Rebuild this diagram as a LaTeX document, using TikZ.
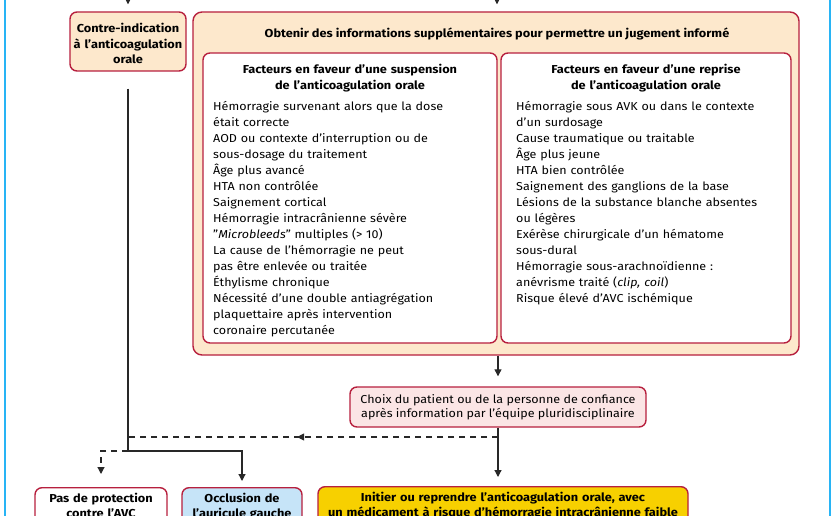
\documentclass[tikz,border=0pt]{standalone}
\usepackage{fontspec}
\setmainfont{Fira Sans}[FakeStretch=1.09, BoldFeatures={FakeStretch=1.11}]
\usetikzlibrary{arrows.meta,decorations.markings}
\definecolor{crim}{RGB}{183,32,62}
\definecolor{peach}{RGB}{253,232,204}
\definecolor{rose}{RGB}{251,229,229}
\definecolor{gold}{RGB}{247,208,0}
\definecolor{sky}{RGB}{198,228,248}
\definecolor{cyanl}{RGB}{40,180,245}
\definecolor{conn}{RGB}{40,40,40}
\begin{document}
\begin{tikzpicture}[x=1pt,y=-1pt,
 box/.style={draw=crim, line width=1.4pt, rounded corners=7pt, inner sep=0pt},
 con/.style={draw=conn, line width=1.2pt},
 tip/.style={-{Triangle[width=7pt,length=7pt]}},
 dsh/.style={dash pattern=on 6pt off 5pt},
 body/.style={font=\fontsize{11.5}{16}\selectfont, inner sep=0pt},
 bold/.style={font=\fontsize{11.5}{16}\selectfont\bfseries, inner sep=0pt}]
\clip (0,0) rectangle (836,516);
\fill[white] (0,0) rectangle (836,516);
\draw[cyanl, line width=2pt] (5,0) -- (5,516);
\draw[cyanl, line width=2pt] (830,0) -- (830,516);

% boxes
\node[box, fill=peach, minimum width=116pt, minimum height=59pt] (contre) at (128,41.5) {};
\node[bold, anchor=north, text width=116pt, align=center, font=\fontsize{11.5}{15.5}\selectfont\bfseries] (contretxt) at (128,21.8) {\strut Contre-indication\\à l’anticoagulation\\orale};

\node[box, fill=peach, minimum width=606pt, minimum height=343pt, rounded corners=9pt] (big) at (496,183.5) {};
\node[bold, anchor=base] (title) at (497,38) {Obtenir des informations supplémentaires pour permettre un jugement informé};

\node[box, fill=white, minimum width=294pt, minimum height=290pt] (lbox) at (350,198) {};
\node[box, fill=white, minimum width=290pt, minimum height=290pt] (rbox) at (646,198) {};

\node[bold, anchor=north, text width=290pt, align=center] (lhead) at (350,61.8) {\strut Facteurs en faveur d'une suspension\\de l’anticoagulation orale};
\node[bold, anchor=north, text width=286pt, align=center] (rhead) at (646,61.8) {\strut Facteurs en faveur d'une reprise\\de l’anticoagulation orale};

\node[body, anchor=north west, text width=282pt, align=left] (llist) at (213,99.3) {\strut Hémorragie survenant alors que la dose\\
était correcte\\
AOD ou contexte d'interruption ou de\\
sous-dosage du traitement\\
Âge plus avancé\\
HTA non contrôlée\\
Saignement cortical\\
Hémorragie intracrânienne sévère\\
"\textit{Microbleeds}" multiples (> 10)\\
La cause de l’hémorragie ne peut\\
pas être enlevée ou traitée\\
Éthylisme chronique\\
Nécessité d'une double antiagrégation\\
plaquettaire après intervention\\
coronaire percutanée};

\node[body, anchor=north west, text width=272pt, align=left] (rlist) at (516,99.3) {\strut Hémorragie sous AVK ou dans le contexte\\
d'un surdosage\\
Cause traumatique ou traitable\\
Âge plus jeune\\
HTA bien contrôlée\\
Saignement des ganglions de la base\\
Lésions de la substance blanche absentes\\
ou légères\\
Exérèse chirurgicale d'un hématome\\
sous-dural\\
Hémorragie sous-arachnoïdienne :\\
anévrisme traité (\textit{clip, coil})\\
Risque élevé d'AVC ischémique};

\node[box, fill=rose, minimum width=296pt, minimum height=40pt, align=center, font=\fontsize{11.5}{14}\selectfont] (choix) at (498,407) {Choix du patient ou de la personne de confiance\\après information par l’équipe pluridisciplinaire};

\node[box, fill=white, minimum width=132pt, minimum height=60pt, anchor=north] (pas) at (101,487) {};
\node[bold, anchor=north, text width=132pt, align=center, font=\fontsize{11.5}{15}\selectfont\bfseries] (pastxt) at (101,491.8) {\strut Pas de protection\\contre l’AVC};

\node[box, fill=sky, minimum width=120pt, minimum height=60pt, anchor=north] (occl) at (242,487) {};
\node[bold, anchor=north, text width=120pt, align=center, font=\fontsize{11.5}{15}\selectfont\bfseries] (occltxt) at (242,491.8) {\strut Occlusion de\\l’auricule gauche};

\node[box, fill=gold, minimum width=370pt, minimum height=60pt, anchor=north] (init) at (503,486) {};
\node[bold, anchor=north, text width=370pt, align=center, font=\fontsize{11.5}{15}\selectfont\bfseries] (inittxt) at (503,490.8) {\strut Initier ou reprendre l’anticoagulation orale, avec\\un médicament à risque d'hémorragie intracrânienne faible};

% connectors
\coordinate (topA) at (128,-10);
\coordinate (topB) at (497,-10);
\coordinate (j1) at (128,451);
\coordinate (j2) at (498,437);
\coordinate (j3) at (128,437);
\draw[con, tip, shorten >=7pt] (topA) -- (contre.north);
\draw[con, tip, shorten >=7pt] (topB) -- (topB |- big.north);
\draw[con, tip, shorten <=17pt, shorten >=6pt] (contre.south) -- (j1) -| (occl.north);
\draw[con, dsh, tip, shorten >=13pt] (j1) -| (pas.north);
\draw[con, tip, shorten >=10pt] (choix.north |- big.south) -- (choix.north);
\draw[con, tip, shorten >=9pt] (choix.south) -- (choix.south |- init.north);
\draw[con, dsh, postaction={decorate}, decoration={markings, mark=at position 0.543 with {\arrow{Triangle[width=7pt,length=7pt]}}}] (j2) -- (j3);
\end{tikzpicture}
\end{document}
